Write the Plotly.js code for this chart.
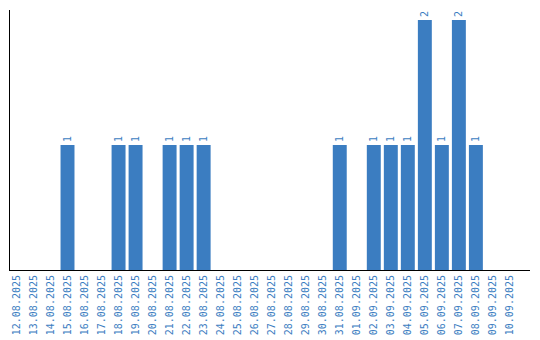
<!DOCTYPE html>
<html><head><meta charset="utf-8">
<script src="https://cdn.plot.ly/plotly-3.0.1.min.js"></script>
<style>html,body{margin:0;padding:0;background:#fff}</style>
</head><body><div id="chart" style="width:540px;height:340px"></div>
<script>
const dates = ["12.08.2025","13.08.2025","14.08.2025","15.08.2025","16.08.2025","17.08.2025","18.08.2025","19.08.2025","20.08.2025","21.08.2025","22.08.2025","23.08.2025","24.08.2025","25.08.2025","26.08.2025","27.08.2025","28.08.2025","29.08.2025","30.08.2025","31.08.2025","01.09.2025","02.09.2025","03.09.2025","04.09.2025","05.09.2025","06.09.2025","07.09.2025","08.09.2025","09.09.2025","10.09.2025"];
const counts = [0,0,0,1,0,0,1,1,0,1,1,1,0,0,0,0,0,0,0,1,0,1,1,1,2,1,2,1,0,0];
const labels = counts.map(v => v > 0 ? String(v) : "");
const blue = "#3b7dc1";
Plotly.newPlot("chart", [{
  type: "bar", x: dates, y: counts, text: labels,
  textposition: "outside", textangle: -90, cliponaxis: false,
  textfont: {family: "DejaVu Sans Mono", size: 10, color: blue},
  marker: {color: blue}, hoverinfo: "none"
}], {
  width: 540, height: 340,
  margin: {l: 10, r: 10, t: 10, b: 70},
  bargap: 0.18,
  paper_bgcolor: "#fff", plot_bgcolor: "#fff",
  showlegend: false,
  xaxis: {type: "category", range: [-0.38, 30.18], showline: true, linecolor: "#000", linewidth: 1,
    showgrid: false, ticks: "", tickangle: -90,
    tickfont: {family: "DejaVu Sans Mono", size: 10, color: blue}},
  yaxis: {range: [0, 2.08], showline: true, linecolor: "#000", linewidth: 1,
    showgrid: false, zeroline: false, showticklabels: false, ticks: ""}
}, {displayModeBar: false, staticPlot: true});
</script></body></html>
